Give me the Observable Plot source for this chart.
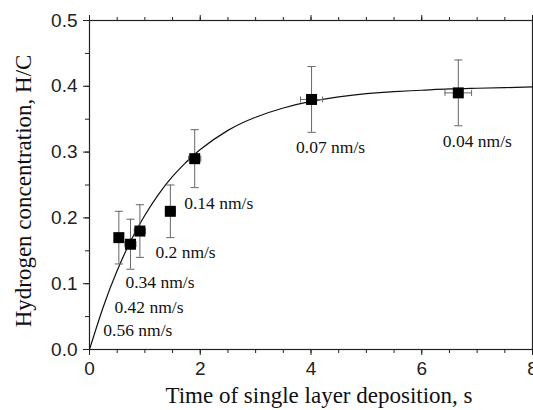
<!DOCTYPE html>
<html>
<head>
<meta charset="utf-8">
<script src="https://cdn.jsdelivr.net/npm/d3@7"></script>
<script src="https://cdn.jsdelivr.net/npm/@observablehq/plot@0.6"></script>
<style>
  html, body { margin: 0; padding: 0; background: #fff; }
  #chart { width: 533px; height: 410px; overflow: hidden; }
</style>
</head>
<body>
<div id="chart"></div>
<script>
// Measured points
const time = [0.53, 0.74, 0.91, 1.46, 1.90, 4.01, 6.66];
const hc = [0.17, 0.16, 0.18, 0.21, 0.29, 0.38, 0.39];
const hcErr = [0.04, 0.038, 0.04, 0.04, 0.044, 0.05, 0.05];
const timeErr = [0.08, 0.1, 0.1, 0.09, 0.11, 0.2, 0.24];

// Fitted curve
const fitT = [0, 0.25, 0.5, 0.75, 1, 1.25, 1.5, 1.75, 2, 2.5, 3, 3.5, 4, 4.5, 5, 5.5, 6, 6.5, 7, 7.5, 8];
const fitH = [0, 0.065, 0.120, 0.166, 0.204, 0.236, 0.263, 0.285, 0.304, 0.333, 0.353, 0.367, 0.377, 0.384, 0.389, 0.392, 0.394, 0.396, 0.397, 0.398, 0.399];

// Rate annotations
const rates = ["0.56 nm/s", "0.42 nm/s", "0.34 nm/s", "0.2 nm/s", "0.14 nm/s", "0.07 nm/s", "0.04 nm/s"];
const rateX = [0.25, 0.45, 0.65, 1.19, 1.71, 3.73, 6.38];
const rateY = [0.029, 0.064, 0.102, 0.147, 0.222, 0.307, 0.316];

// Ticks
const xMajor = [0, 2, 4, 6, 8];
const xMinor = [0, 0.5, 1, 1.5, 2, 2.5, 3, 3.5, 4, 4.5, 5, 5.5, 6, 6.5, 7, 7.5, 8];
const yMajor = [0, 0.1, 0.2, 0.3, 0.4, 0.5];
const yMinor = [0, 0.05, 0.1, 0.15, 0.2, 0.25, 0.3, 0.35, 0.4, 0.45, 0.5];

const points = time.map((t, i) => ({t, h: hc[i], he: hcErr[i], te: timeErr[i]}));
const fit = fitT.map((t, i) => ({t, h: fitH[i]}));
const notes = rates.map((s, i) => ({s, x: rateX[i], y: rateY[i]}));

const hCap = {draw(ctx, size) { const w = Math.sqrt(size); ctx.moveTo(-w, 0); ctx.lineTo(w, 0); }};
const vCap = {draw(ctx, size) { const w = Math.sqrt(size); ctx.moveTo(0, -w); ctx.lineTo(0, w); }};

const serif = "'Liberation Serif', 'Times New Roman', serif";
const sans = "'Liberation Sans', Arial, sans-serif";
const errColor = "#666";

const chart = Plot.plot({
  width: 533,
  height: 410,
  marginLeft: 89,
  marginTop: 20,
  marginBottom: 61,
  marginRight: 1,
  style: {fontFamily: sans, background: "#fff", overflow: "visible"},
  x: {domain: [0, 8]},
  y: {domain: [0, 0.5]},
  marks: [
    Plot.frame({stroke: "#222", strokeWidth: 1.2}),
    Plot.axisX({ticks: xMajor, tickSize: 6, tickFormat: d => String(d), fontSize: 19, fontFamily: sans, tickPadding: 6, label: null, stroke: "#222", color: "#222"}),
    Plot.axisX({ticks: xMinor, tickSize: 4, text: null, label: null, stroke: "#222"}),
    Plot.axisX({anchor: "top", ticks: xMajor, tickSize: 6, text: null, label: null, stroke: "#222"}),
    Plot.axisX({anchor: "top", ticks: xMinor, tickSize: 4, text: null, label: null, stroke: "#222"}),
    Plot.axisY({ticks: yMajor, tickSize: 6, tickFormat: d => d.toFixed(1), fontSize: 19, fontFamily: sans, tickPadding: 6, label: null, stroke: "#222", color: "#222"}),
    Plot.axisY({ticks: yMinor, tickSize: 4, text: null, label: null, stroke: "#222"}),
    Plot.text(["Time of single layer deposition, s"], {frameAnchor: "bottom", lineAnchor: "middle", dx: 8, dy: 46, fontSize: 23, fontFamily: serif, fill: "#111"}),
    Plot.text(["Hydrogen concentration, H/C"], {frameAnchor: "left", lineAnchor: "middle", dx: -66, dy: 6, rotate: -90, textAnchor: "middle", fontSize: 23, fontFamily: serif, fill: "#111"}),
    Plot.line(fit, {x: "t", y: "h", curve: "natural", stroke: "#111", strokeWidth: 1.2}),
    Plot.ruleX(points, {x: "t", y1: d => d.h - d.he, y2: d => d.h + d.he, stroke: errColor, strokeWidth: 1}),
    Plot.ruleY(points, {y: "h", x1: d => d.t - d.te, x2: d => d.t + d.te, stroke: errColor, strokeWidth: 1}),
    Plot.dot(points, {x: "t", y: d => d.h - d.he, symbol: hCap, r: 2.3, stroke: errColor, strokeWidth: 1}),
    Plot.dot(points, {x: "t", y: d => d.h + d.he, symbol: hCap, r: 2.3, stroke: errColor, strokeWidth: 1}),
    Plot.dot(points, {x: d => d.t - d.te, y: "h", symbol: vCap, r: 1.7, stroke: errColor, strokeWidth: 1}),
    Plot.dot(points, {x: d => d.t + d.te, y: "h", symbol: vCap, r: 1.7, stroke: errColor, strokeWidth: 1}),
    Plot.dot(points, {x: "t", y: "h", symbol: "square", r: 6.2, fill: "#000", stroke: "none"}),
    Plot.text(notes, {x: "x", y: "y", text: "s", textAnchor: "start", fontSize: 17.5, fontFamily: serif, fill: "#111"})
  ]
});
document.getElementById("chart").appendChild(chart);
</script>
</body>
</html>
